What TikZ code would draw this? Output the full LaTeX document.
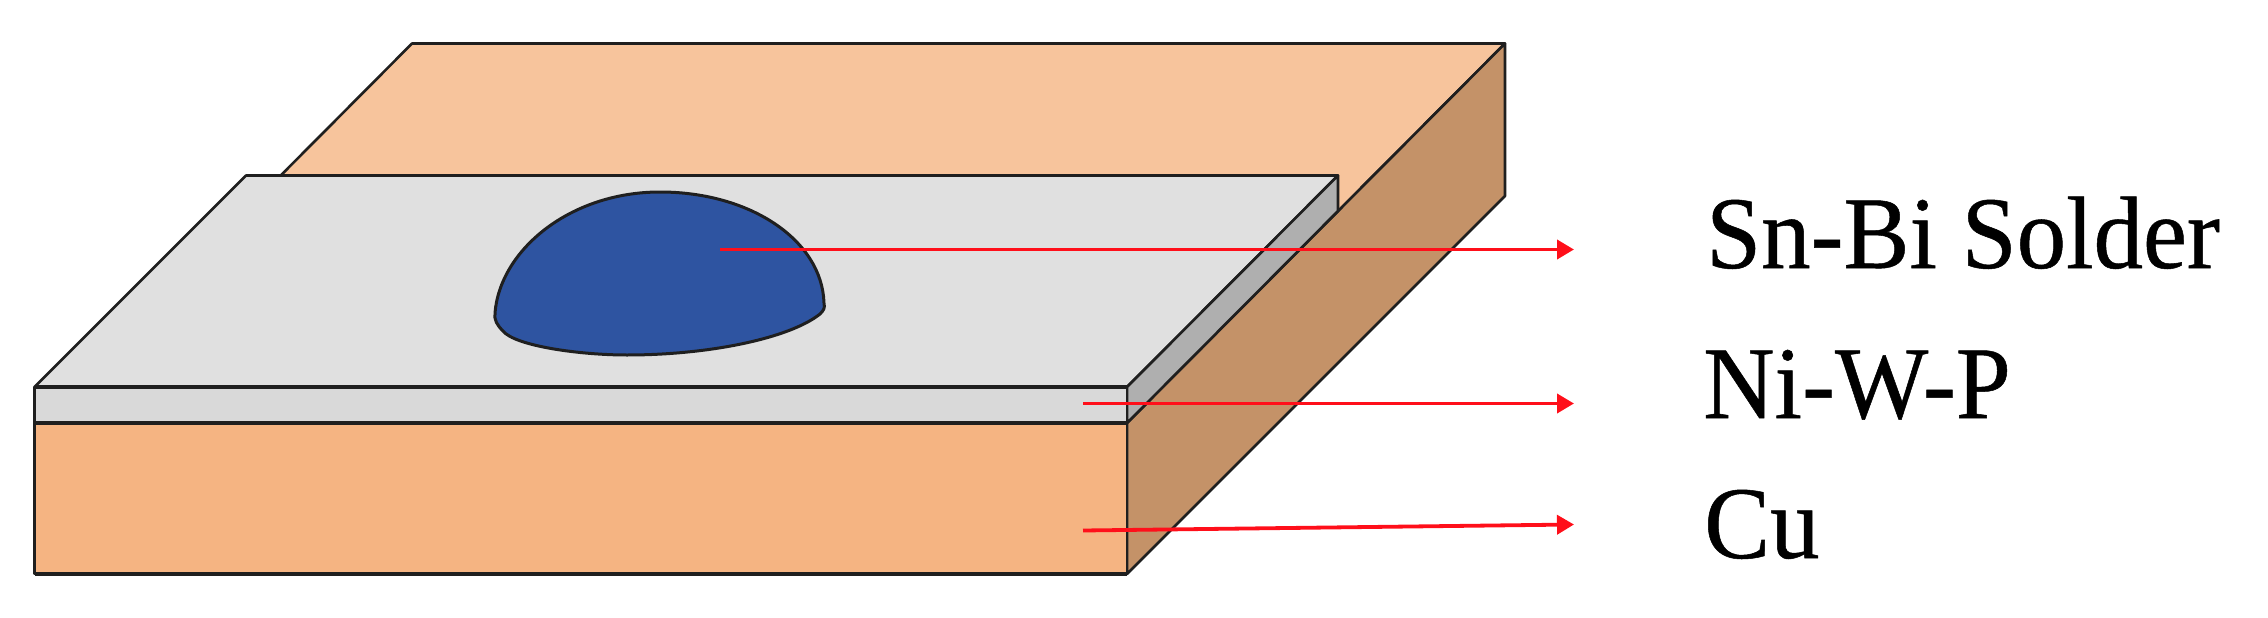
\documentclass[tikz,border=0pt]{standalone}
\usepackage{fontspec}
\setmainfont[FakeBold=0.5]{Liberation Serif}
\usetikzlibrary{arrows.meta}
\definecolor{cuTop}{HTML}{F7C49C}
\definecolor{cuSide}{HTML}{C49268}
\definecolor{cuFront}{HTML}{F5B482}
\definecolor{niTop}{HTML}{E0E0E0}
\definecolor{niFront}{HTML}{D9D9D9}
\definecolor{niSide}{HTML}{AFAFAF}
\definecolor{solder}{HTML}{2E54A1}
\definecolor{pointer}{HTML}{FF0F1A}
\tikzset{
  face/.style={draw=black!88,line width=3.4pt,line join=round},
  thin face/.style={draw=black!88,line width=2.6pt,line join=round},
  pointer line/.style={draw=pointer,line width=3.8pt,-{Triangle[length=17pt,width=19pt]}},
  label text/.style={inner sep=0pt,anchor=base west,transform shape,xscale=.96,font=\fontsize{103}{110}\selectfont},
}
\begin{document}
\begin{tikzpicture}[x=1pt,y=-1pt]
\useasboundingbox (0,0) rectangle (2268,618);
% copper block
\filldraw[thin face,fill=cuTop] (412,43.5) -- (1505,43.5) -- (1127,423) -- (34.5,423) -- cycle;
\filldraw[thin face,fill=cuSide] (1505,43.5) -- (1505,196) -- (1127,574) -- (1127,423) -- cycle;
\filldraw[thin face,fill=cuFront] (34.5,423) -- (1127,423) -- (1127,574) -- (34.5,574) -- cycle;
% Ni-W-P layer
\filldraw[thin face,fill=niTop] (246,175.5) -- (1338,175.5) -- (1127,387) -- (34.5,387) -- cycle;
\filldraw[thin face,fill=niSide] (1338,175.5) -- (1338,211) -- (1127,423) -- (1127,387) -- cycle;
\filldraw[thin face,fill=niFront] (34.5,387) -- (1127,387) -- (1127,423) -- (34.5,423) -- cycle;
\draw[face] (246,175.5) -- (1338,175.5);
\draw[face] (34.5,387) -- (1127,387);
\draw[face] (34.5,423) -- (1127,423);
\draw[face] (34.5,574) -- (1127,574);
% solder dome
\filldraw[thin face,line width=3pt,fill=solder] (495,313) .. controls (500,250) and (570,192) .. (660,192)
  .. controls (750,192) and (822,240) .. (824,303)
  .. controls (825,308) and (824,310) .. (820,314)
  .. controls (790,338) and (710,355) .. (627,355)
  .. controls (580,355) and (515,346) .. (503,331)
  .. controls (497,325) and (494,320) .. (495,313) -- cycle;
% labels
\node[label text] (sn) at (1706,268) {Sn-Bi Solder};
\node[label text] (ni) at (1703,418) {Ni-W-P};
\node[label text] (cu) at (1704,558) {Cu};
% pointers
\coordinate (snA) at (720,249.5);
\coordinate (snB) at (1574,249.5);
\coordinate (niA) at (1083,403.5);
\coordinate (niB) at (1574,403.5);
\coordinate (cuA) at (1083,530.5);
\coordinate (cuB) at (1574,524.5);
\draw[pointer line] (snA) -- (snB);
\draw[pointer line] (niA) -- (niB);
\draw[pointer line] (cuA) -- (cuB);
\end{tikzpicture}
\end{document}
